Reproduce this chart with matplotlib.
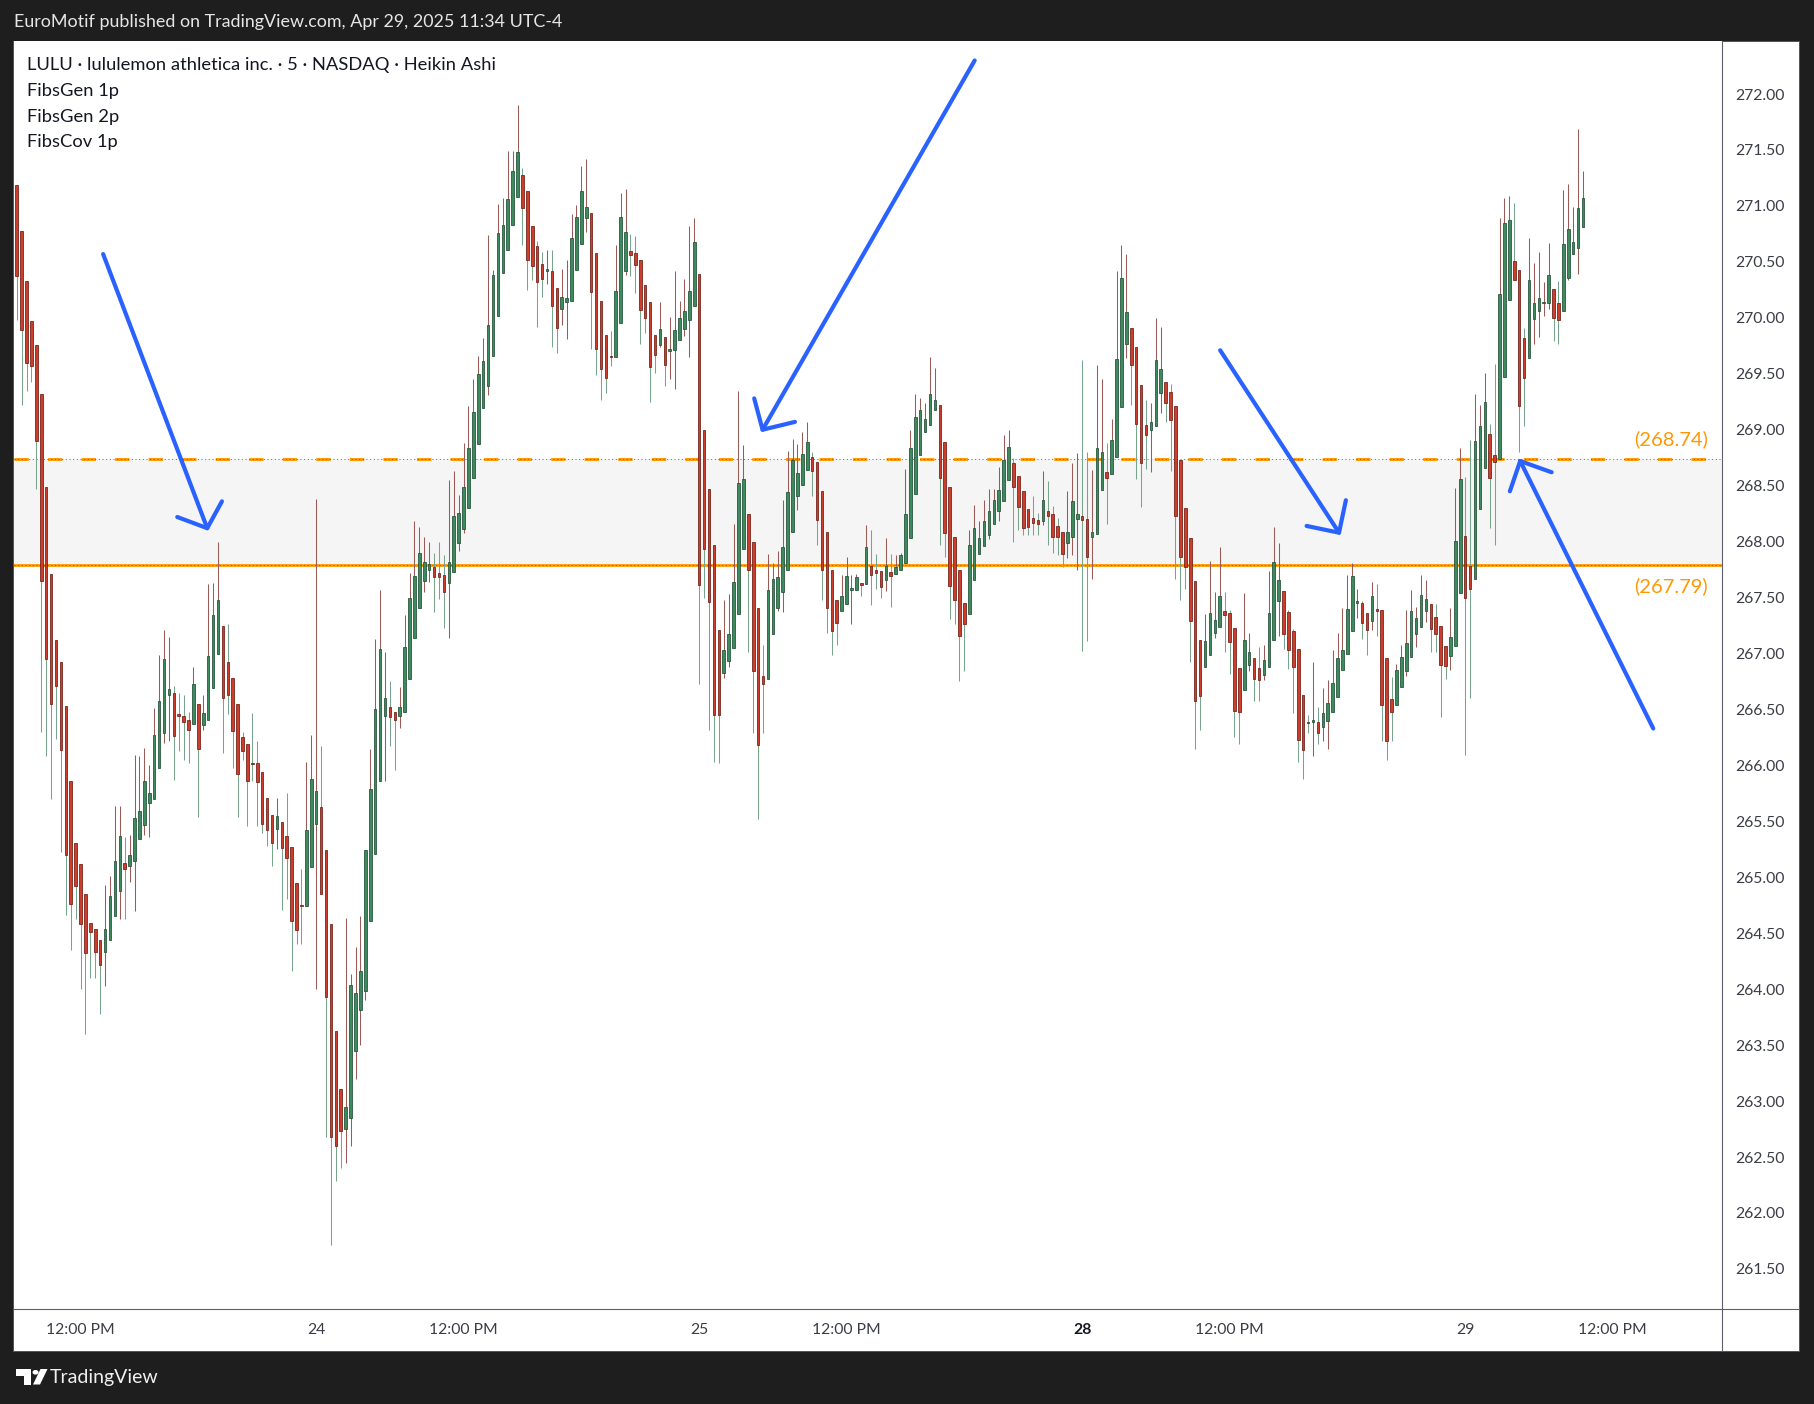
import numpy as np
import matplotlib
matplotlib.use("Agg")
import matplotlib.pyplot as plt
from matplotlib.patches import Rectangle, Polygon, Circle

# ---------------- data (Heikin Ashi 5-min, LULU) ----------------
# Apr 23 (from 10:55 to close)
d23_o = [271.19,270.78,270.33,269.97,269.76,269.32,268.49,267.71,267.12,266.92,266.53,265.86,265.31,265.12,264.85,264.59,264.54,264.44,264.33,264.44,
         264.65,264.88,265.13,265.10,265.15,265.34,265.47,265.66,265.70,265.98,266.29,266.63,266.65,266.46,266.44,266.41,266.37,266.55,266.36,266.41,
         266.69,267.00,267.25,266.92,266.78,266.55,266.25,266.19,266.02,266.02,265.94,265.71,265.56,265.43,265.49,265.37,265.27,264.95,264.75,264.74,265.09]
d23_h = [271.19,270.78,270.33,269.97,269.76,269.32,268.49,267.71,267.12,266.92,266.53,265.86,265.31,265.12,264.85,264.59,264.54,264.44,264.93,265.01,
         265.64,265.64,265.36,265.38,266.09,266.08,266.16,266.00,266.51,266.99,267.21,267.15,266.71,266.65,266.63,266.48,266.88,266.55,266.63,267.62,
         267.63,268.00,267.25,267.26,266.78,266.55,266.30,266.19,266.47,266.22,265.94,265.71,265.56,265.71,265.49,265.75,265.27,264.95,265.07,266.03,266.27]
d23_l = [269.98,269.22,269.35,269.43,268.47,266.30,266.08,265.70,266.24,265.23,264.66,264.35,264.63,264.00,263.60,264.10,264.10,263.78,264.03,264.44,
         264.65,264.63,264.63,264.96,264.70,265.34,265.38,265.36,265.70,265.98,266.20,266.22,265.87,266.13,266.05,266.02,266.37,265.54,266.32,266.41,
         266.69,267.00,266.11,266.46,265.98,265.54,266.05,265.46,265.86,265.46,265.40,265.28,265.10,265.25,264.71,264.81,264.16,264.40,264.40,264.74,265.09]
d23_c = [270.37,269.89,269.60,269.57,268.90,267.65,266.95,266.55,266.71,266.14,265.20,264.76,264.92,264.58,264.32,264.51,264.33,264.22,264.54,264.83,
         265.15,265.37,265.07,265.20,265.53,265.59,265.86,265.75,266.27,266.58,266.95,266.68,266.26,266.44,266.39,266.32,266.73,266.15,266.47,266.98,
         267.34,267.48,266.60,266.63,266.31,265.92,266.13,265.86,266.01,265.85,265.48,265.42,265.31,265.55,265.26,265.17,264.61,264.53,264.74,265.42,265.88]

# Apr 24
d24_o = [265.48,265.63,265.24,264.58,263.63,263.11,262.75,262.85,263.45,263.81,263.98,264.61,265.21,265.86,266.44,266.52,266.48,266.44,266.48,266.77,
         267.14,267.41,267.65,267.75,267.77,267.72,267.70,267.63,267.73,267.99,268.11,268.30,268.57,268.87,269.19,269.39,269.66,270.02,270.40,270.61,
         270.83,271.08,271.28,271.13,270.82,270.64,270.48,270.42,270.42,270.27,270.08,270.14,270.15,270.43,270.66,270.89,270.94,270.58,270.15,269.85,
         269.66,269.65,269.95,270.42,270.60,270.58,270.52,270.29,270.14,269.85,269.76,269.83,269.70,269.71,269.80,269.90,269.98,270.11]
d24_h = [268.38,266.17,265.24,264.58,263.63,263.11,264.64,264.14,264.38,264.65,265.24,266.15,267.13,267.57,267.01,266.75,266.48,266.70,267.34,267.72,
         268.18,268.13,268.04,268.00,267.90,268.00,267.88,268.55,268.63,268.42,268.88,269.21,269.45,269.66,269.82,270.74,270.43,271.02,271.07,271.49,
         271.49,271.90,271.34,271.13,270.82,270.69,270.59,270.61,270.61,270.27,270.44,270.52,270.93,271.01,271.36,271.42,270.94,270.58,270.15,269.85,
         269.88,270.65,271.12,271.15,270.75,270.73,270.52,270.29,270.14,269.85,270.14,269.83,270.01,270.42,270.15,270.35,270.82,270.89]
d24_l = [264.00,264.85,262.68,261.71,262.29,262.40,262.45,262.60,263.20,263.50,263.90,264.61,265.21,265.86,265.86,266.17,265.96,266.33,266.48,266.77,
         267.14,267.41,267.55,267.64,267.37,267.49,267.23,267.14,267.73,267.92,268.08,268.30,268.57,268.87,269.19,269.31,269.66,270.02,270.40,270.61,
         270.83,271.08,270.65,270.25,270.34,269.92,270.19,270.30,269.74,269.69,269.94,269.81,270.15,270.43,270.66,270.77,269.72,269.49,269.27,269.33,
         269.57,269.65,269.95,270.38,270.37,270.22,269.77,269.86,269.25,269.51,269.74,269.39,269.45,269.36,269.80,269.84,269.65,270.11]
d24_c = [265.77,264.85,263.93,262.68,262.60,262.73,262.95,264.04,263.97,264.16,265.24,265.79,266.50,267.04,266.60,266.43,266.41,266.52,267.06,267.50,
         267.69,267.90,267.82,267.80,267.68,267.68,267.55,267.82,268.23,268.26,268.49,268.84,269.16,269.50,269.61,269.94,270.38,270.76,270.83,271.06,
         271.31,271.48,270.98,270.52,270.46,270.32,270.35,270.42,270.11,269.91,270.19,270.18,270.71,270.90,271.13,270.99,270.23,269.72,269.54,269.46,
         269.65,270.24,270.90,270.77,270.56,270.47,270.07,270.00,269.56,269.67,269.90,269.58,269.72,269.89,270.00,270.06,270.24,270.68]

# Apr 25
d25_o = [270.39,269.00,268.47,267.97,267.21,266.83,266.93,267.05,267.35,267.93,268.25,268.00,267.41,266.80,266.77,267.17,267.41,267.55,267.75,268.09,
         268.41,268.51,268.64,268.76,268.71,268.45,268.09,267.75,267.48,267.38,267.44,267.57,267.57,267.63,267.62,267.78,267.75,267.74,267.66,267.73,
         267.71,267.75,267.81,268.03,268.43,268.77,268.98,269.04,269.18,269.22,268.89,268.49,268.04,267.75,267.45,267.35,267.66,267.89,267.96,268.06,
         268.16,268.27,268.36,268.55,268.70,268.59,268.45,268.29,268.21,268.19,268.18,268.27,268.25,268.14,268.09,267.99,268.04,268.20]
d25_h = [270.39,269.00,268.47,267.97,267.21,267.48,267.53,268.16,269.35,268.86,268.25,268.00,267.41,267.08,267.89,267.81,267.92,268.37,268.81,268.92,
         268.87,268.98,269.07,268.80,268.71,268.45,268.09,267.75,267.48,267.70,267.86,267.70,267.71,267.63,268.15,268.10,267.89,267.74,268.03,267.89,
         267.88,267.90,268.65,269.00,269.32,269.28,269.24,269.65,269.55,269.22,268.89,268.49,268.04,267.75,267.45,268.10,268.33,268.18,268.37,268.47,
         268.47,268.67,268.95,269.00,268.75,268.59,268.45,268.29,268.41,268.26,268.63,268.54,268.32,268.21,268.09,268.45,268.70,268.79]
d25_l = [266.73,267.50,266.32,266.03,266.02,266.78,266.88,267.05,267.35,267.93,267.01,266.29,265.52,266.29,266.77,267.17,267.38,267.37,267.75,268.09,
         268.28,268.51,268.64,268.41,267.97,267.48,267.18,266.99,267.08,267.38,267.44,267.26,267.57,267.51,267.62,267.43,267.58,267.50,267.56,267.42,
         267.71,267.75,267.81,268.03,268.43,268.77,268.98,269.04,269.18,267.97,267.86,267.31,267.26,266.75,266.84,267.35,267.66,267.89,267.96,268.02,
         268.16,268.18,268.36,268.55,268.00,268.10,268.06,268.06,268.06,268.06,268.15,267.97,267.90,267.88,267.77,267.85,267.88,267.75]
d25_c = [267.61,267.93,267.46,266.45,266.45,267.03,267.17,267.64,268.52,268.56,267.75,266.84,266.18,266.73,267.57,267.67,267.68,267.95,268.44,268.73,
         268.61,268.78,268.89,268.63,268.19,267.75,267.41,267.20,267.27,267.51,267.69,267.57,267.68,267.61,267.95,267.70,267.72,267.59,267.78,267.69,
         267.77,267.88,268.25,268.84,269.11,269.18,269.10,269.32,269.27,268.57,268.08,267.60,267.48,267.16,267.26,267.97,268.12,268.03,268.18,268.27,
         268.37,268.46,268.73,268.85,268.49,268.31,268.12,268.13,268.17,268.16,268.37,268.23,268.04,268.04,267.89,268.09,268.36,268.25]

# Apr 28
d28_o = [268.23,268.20,268.04,268.07,268.46,268.62,268.60,268.76,269.20,269.77,269.91,269.74,269.40,269.04,269.00,269.03,269.33,269.43,269.34,269.21,
         268.73,268.30,268.03,267.65,267.12,266.88,266.99,267.18,267.24,267.38,267.36,267.23,266.87,266.67,266.90,266.96,266.87,266.81,266.88,267.12,
         267.47,267.56,267.37,267.20,267.04,266.63,266.39,266.39,266.39,266.34,266.40,266.48,266.61,266.85,267.00,267.20,267.45,267.45,267.36,267.29,
         267.40,267.39,266.96,266.59,266.54,266.70,266.84,266.97,267.17,267.24,267.38,267.44,267.33,267.25,267.07,266.98,267.07,267.54]
d28_h = [269.62,268.80,268.64,269.58,269.45,268.88,269.10,270.42,270.65,270.57,269.91,269.74,269.40,269.27,269.24,270.00,269.92,269.43,269.41,269.21,
         268.73,268.30,268.03,267.65,267.12,267.35,267.83,267.55,267.95,267.55,267.39,267.23,266.87,267.54,267.18,266.96,267.06,267.08,267.74,268.13,
         267.99,267.56,267.39,267.22,267.04,266.63,266.45,266.92,266.52,266.69,266.76,267.03,267.18,267.41,267.70,267.81,267.58,267.47,267.36,267.64,
         267.62,267.39,266.96,266.79,266.91,267.08,267.39,267.57,267.42,267.70,267.66,267.44,267.44,267.25,267.07,267.41,268.48,268.84]
d28_l = [267.02,267.11,267.67,268.07,268.46,268.16,268.60,268.76,269.20,269.64,269.22,268.56,268.31,268.65,268.62,269.03,269.15,269.07,268.63,267.67,
         267.48,267.58,266.92,266.15,266.32,266.88,266.99,267.14,267.24,267.01,266.82,266.25,266.19,266.67,266.84,266.58,266.58,266.76,266.88,267.12,
         267.16,267.04,266.86,266.47,266.03,265.88,266.29,266.08,266.19,266.22,266.15,266.48,266.61,266.85,267.00,267.20,267.32,267.13,266.99,267.21,
         267.16,266.22,266.05,266.22,266.54,266.70,266.80,266.97,267.06,267.24,267.28,267.01,267.01,266.43,266.77,266.85,267.07,267.54]
d28_c = [268.19,267.86,268.09,268.84,268.80,268.57,268.91,269.63,270.36,270.05,269.58,269.05,268.70,268.95,269.07,269.62,269.54,269.24,269.09,268.23,
         267.86,267.77,267.29,266.58,266.62,267.11,267.36,267.30,267.51,267.34,267.10,266.49,266.48,267.12,267.01,266.77,266.76,266.94,267.36,267.82,
         267.66,267.17,267.03,266.88,266.23,266.14,266.38,266.40,266.29,266.47,266.56,266.74,266.96,267.03,267.40,267.69,267.47,267.27,267.21,267.51,
         267.38,266.54,266.22,266.48,266.85,266.97,267.09,267.38,267.32,267.52,267.49,267.22,267.17,266.90,266.89,267.15,268.01,268.56]

# Apr 29 (to 11:30)
d29_o = [268.05,267.78,267.67,268.29,268.66,268.96,268.77,268.74,269.47,270.16,270.51,270.43,269.82,269.64,269.99,270.06,270.13,270.13,270.26,270.13,
         270.06,270.36,270.57,270.62,270.81]
d29_h = [268.58,268.91,269.32,269.22,269.51,269.05,269.59,270.89,271.07,271.09,271.03,270.43,269.91,270.71,270.49,270.59,270.32,270.67,270.26,270.33,
         271.14,271.20,270.99,271.69,271.31]
d29_l = [266.09,266.60,267.67,268.29,268.66,268.12,267.97,268.74,269.47,270.16,270.34,268.80,269.03,269.64,269.77,269.83,270.02,270.08,269.79,269.77,
         270.06,270.34,270.57,270.39,270.81]
d29_c = [267.50,267.58,268.90,269.03,269.25,268.57,268.71,270.21,270.85,270.87,270.34,269.21,269.46,270.34,270.13,270.18,270.14,270.38,270.00,269.98,
         270.66,270.79,270.68,270.98,271.07]

# time-axis labels: (bar index from first visible bar, label, bold)
tick_pos = [13, 61, 91, 139, 169, 217, 247, 295, 325]
tick_lab = ["12:00 PM", "24", "12:00 PM", "25", "12:00 PM", "28", "12:00 PM", "29", "12:00 PM"]
tick_bold = [False, False, False, False, False, True, False, False, False]

# fib levels
lvl_upper = 268.74
lvl_lower = 267.79

# blue hand-drawn arrows, (bar index, price): shaft start, tip, head ends
arrows = [
    [(17.6, 270.57), (38.8, 268.12), (32.7, 268.22), (41.8, 268.36)],
    [(195.1, 272.30), (151.9, 269.00), (150.2, 269.28), (158.5, 269.07)],
    [(245.1, 269.71), (269.3, 268.08), (262.7, 268.14), (270.7, 268.37)],
    [(333.3, 266.33), (306.2, 268.72), (304.1, 268.45), (312.6, 268.62)],
]

# ---------------- figure ----------------
W, H = 1815, 1404
DPI = 100
plt.rcParams['font.family'] = ['Lato', 'DejaVu Sans']
fig = plt.figure(figsize=(W / DPI, H / DPI), dpi=DPI, facecolor='#1e1e1e')

def fx(px):
    return px / W

def fy(py):
    return 1 - py / H

# white panel (behind everything)
fig.patches.append(Rectangle((fx(13.5), fy(1350.5)), fx(1799.5 - 13.5), (1350.5 - 41) / H,
                             transform=fig.transFigure, facecolor='white',
                             edgecolor='#555555', linewidth=0.7, zorder=-5))

ax = fig.add_axes([fx(14), fy(1309), fx(1722 - 14), (1309 - 41) / H])
ax.set_facecolor('white')
ax.set_zorder(1)
for s in ax.spines.values():
    s.set_visible(False)

o = np.array(d23_o + d24_o + d25_o + d28_o + d29_o)
h = np.array(d23_h + d24_h + d25_h + d28_h + d29_h)
l = np.array(d23_l + d24_l + d25_l + d28_l + d29_l)
c = np.array(d23_c + d24_c + d25_c + d28_c + d29_c)
h = np.maximum(h, np.maximum(o, c))
l = np.minimum(l, np.minimum(o, c))
x = np.arange(len(o))

up_body, up_edge, up_wick = '#3c8a5d', '#1f4f34', '#9a5a55'
dn_body, dn_edge, dn_wick = '#cc3d2c', '#6e1c12', '#78a38c'

# band + level lines
ax.axhspan(lvl_lower, lvl_upper, color='#f5f5f5', zorder=0.5, lw=0)
ax.axhline(lvl_upper, color='#ff9800', lw=2.1, ls=(0, (4.9, 6.6)), zorder=1)
ax.axhline(lvl_upper, color='#555555', lw=0.6, ls=(0, (1.2, 3.2)), zorder=1.1)
ax.axhline(lvl_lower, color='#ff9800', lw=2.0, zorder=1)
ax.axhline(lvl_lower, color='#555555', lw=0.6, ls=(0, (1.2, 3.2)), zorder=1.1)

# candles
bw = 0.52
for i in range(len(o)):
    up = c[i] >= o[i]
    ax.vlines(x[i], l[i], h[i], color=up_wick if up else dn_wick, lw=0.75, zorder=2)
    bot = min(o[i], c[i])
    ht = max(abs(c[i] - o[i]), 0.012)
    ax.add_patch(Rectangle((x[i] - bw / 2, bot), bw, ht,
                           facecolor=up_body if up else dn_body,
                           edgecolor=up_edge if up else dn_edge,
                           linewidth=0.55, zorder=3))

# arrows
for st, tip, h1, h2 in arrows:
    ax.plot([st[0], tip[0]], [st[1], tip[1]], color='#2962ff', lw=3.0,
            solid_capstyle='round', zorder=5)
    ax.plot([h1[0], tip[0], h2[0]], [h1[1], tip[1], h2[1]], color='#2962ff', lw=3.0,
            solid_capstyle='round', solid_joinstyle='round', zorder=5)

# level labels
ax.annotate(f'({lvl_upper:.2f})', xy=(1, lvl_upper), xycoords=('axes fraction', 'data'),
            xytext=(-10, 14), textcoords='offset points', ha='right', va='center',
            color='#ff9800', fontsize=14.5)
ax.annotate(f'({lvl_lower:.2f})', xy=(1, lvl_lower), xycoords=('axes fraction', 'data'),
            xytext=(-10, -15.5), textcoords='offset points', ha='right', va='center',
            color='#ff9800', fontsize=14.5)

ax.set_xlim(-0.55, 347.3)
ax.set_ylim(261.142, 272.474)

# price axis
yt = np.arange(261.5, 272.01, 0.5)
ax.yaxis.tick_right()
ax.set_yticks(yt)
ax.set_yticklabels([f'{v:.2f}' for v in yt])
ax.tick_params(axis='y', length=0, pad=9.5, labelsize=11.3, labelcolor='#3a3d45')

# time axis
ax.set_xticks(tick_pos)
ax.set_xticklabels(tick_lab)
ax.tick_params(axis='x', length=0, pad=10, labelsize=11.3, labelcolor='#3a3d45')
for t, b in zip(ax.get_xticklabels(), tick_bold):
    if b:
        t.set_fontweight('bold')
        t.set_color('#131722')

# separators
fig.add_artist(plt.Line2D([fx(1722), fx(1722)], [fy(41), fy(1350)], transform=fig.transFigure,
                          color='#5d606b', lw=0.8, zorder=2))
fig.add_artist(plt.Line2D([fx(14), fx(1799)], [fy(1309), fy(1309)], transform=fig.transFigure,
                          color='#5d606b', lw=0.8, zorder=2))

# header + legend texts
fig.text(fx(14), fy(22), 'EuroMotif published on TradingView.com, Apr 29, 2025 11:34 UTC-4',
         color='#e6e6e6', fontsize=12.9, va='center', ha='left')
legend_lines = ['LULU · lululemon athletica inc. · 5 · NASDAQ · Heikin Ashi',
                'FibsGen 1p', 'FibsGen 2p', 'FibsCov 1p']
for k, t in enumerate(legend_lines):
    fig.text(fx(27), fy(65 + k * 25.8), t, color='#131722', fontsize=13.2, va='center',
             ha='left', zorder=3)

# TradingView footer logo + text
logoT = [(15.5, 1369), (31.5, 1369), (31.5, 1384.5), (24.5, 1384.5), (24.5, 1375.5), (15.5, 1375.5)]
fig.patches.append(Polygon([(fx(a), fy(b)) for a, b in logoT], closed=True,
                           transform=fig.transFigure, facecolor='white', edgecolor='none'))
fig.patches.append(Circle((fx(35.5), fy(1372.3)), 3.0 / W, transform=fig.transFigure,
                          facecolor='white', edgecolor='none'))
logoV = [(40.5, 1369), (47.5, 1369), (40.0, 1384.5), (33.0, 1384.5)]
fig.patches.append(Polygon([(fx(a), fy(b)) for a, b in logoV], closed=True,
                           transform=fig.transFigure, facecolor='white', edgecolor='none'))
fig.text(fx(50), fy(1377.5), 'TradingView', color='#f0f0f0', fontsize=14, va='center', ha='left')

fig.savefig('out.png', dpi=DPI, facecolor=fig.get_facecolor())
